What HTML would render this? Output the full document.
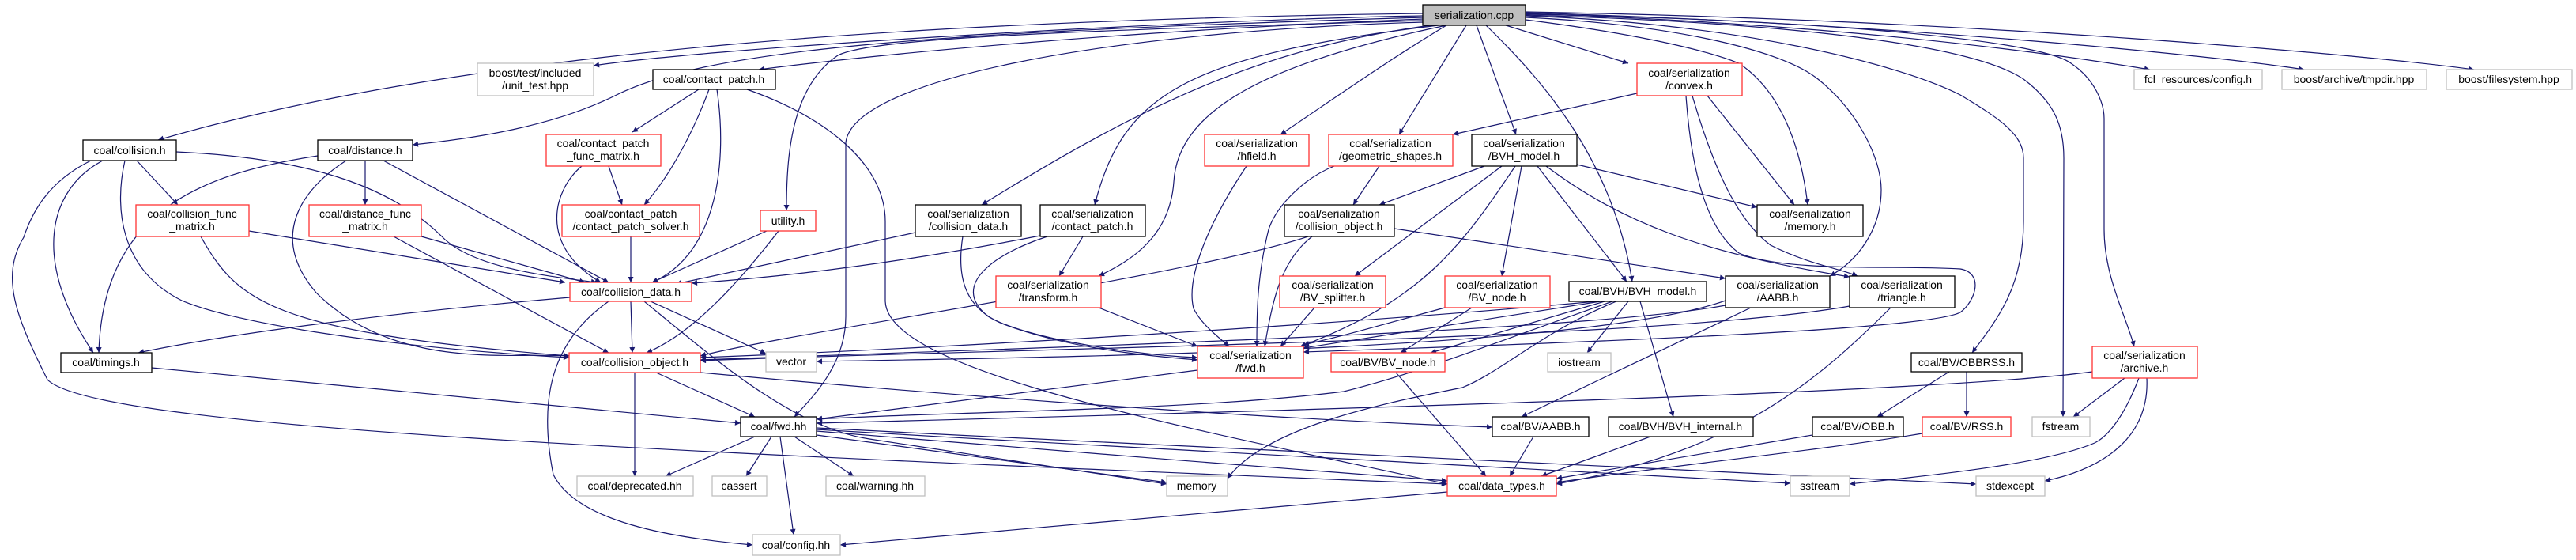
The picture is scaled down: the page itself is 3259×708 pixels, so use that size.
<!DOCTYPE html>
<html><head><meta charset="utf-8"><style>
html,body{margin:0;padding:0;background:#fff;}
svg{display:block;}
text{font-family:"Liberation Sans",sans-serif;font-size:14px;text-anchor:middle;fill:#000;}
.e{fill:none;stroke:#191970;stroke-width:1.2;marker-end:url(#a);}
.b{fill:#fff;stroke:#000;stroke-width:1.3;}
.r{fill:#fff;stroke:#ff3333;stroke-width:1.3;}
.g{fill:#fff;stroke:#bfbfbf;stroke-width:1.3;}
</style></head><body>
<svg width="3259" height="708" viewBox="0 0 3259 708" xmlns="http://www.w3.org/2000/svg">
<defs><marker id="a" viewBox="0 0 10 10" refX="10" refY="5" markerWidth="10" markerHeight="7" markerUnits="userSpaceOnUse" orient="auto"><path d="M0,0 L10,5 L0,10 z" fill="#191970"/></marker></defs>
<g>
<path class="e" d="M1800,20 C1500,25 900,60 751,83"/>
<path class="e" d="M1800,17 C1200,25 600,60 200,177"/>
<path class="e" d="M1800,22 C1200,40 900,60 780,120 C700,160 600,175 522,183"/>
<path class="e" d="M1800,24 C1400,40 1100,70 960,88"/>
<path class="e" d="M1800,26 C1300,40 1100,50 1060,70 C1000,110 995,200 995,266"/>
<path class="e" d="M1800,28 C1400,40 1080,100 1070,180 L1070,400 C1070,460 1030,500 1005,527"/>
<path class="e" d="M1810,32 C1600,60 1450,130 1242,259"/>
<path class="e" d="M1820,32 C1500,70 1420,120 1385,259"/>
<path class="e" d="M1830,32 C1600,80 1490,140 1485,230 C1480,300 1430,330 1390,349"/>
<path class="e" d="M1830,32 C1750,80 1680,130 1620,170"/>
<path class="e" d="M1855,32 L1770,170"/>
<path class="e" d="M1868,32 L1918,170"/>
<path class="e" d="M1880,32 C1950,100 2040,200 2065,356"/>
<path class="e" d="M1905,32 L2060,80"/>
<path class="e" d="M1930,25 C2050,40 2150,60 2200,80 C2260,120 2280,200 2287,259"/>
<path class="e" d="M1930,22 C2100,30 2250,60 2300,100 C2350,140 2380,200 2380,240 C2380,290 2350,330 2315,349"/>
<path class="e" d="M1930,20 C2200,30 2400,80 2480,120 C2530,150 2560,170 2560,200 L2560,280 C2560,360 2530,400 2495,446"/>
<path class="e" d="M1930,19 C2300,30 2500,60 2560,100 C2600,130 2611,160 2611,200 L2610,527"/>
<path class="e" d="M1930,18 C2300,25 2580,50 2620,80 C2650,100 2662,130 2662,150 L2662,290 C2662,350 2690,400 2700,438"/>
<path class="e" d="M1930,17 C2300,30 2550,60 2720,88"/>
<path class="e" d="M1930,16 C2400,30 2800,70 2915,88"/>
<path class="e" d="M1930,15 C2500,25 3000,70 3130,88"/>

<path class="e" d="M130,203 C60,240 40,330 118,446"/>
<path class="e" d="M402,197 C250,220 130,270 125,446"/>
<path class="e" d="M721,376 C500,395 300,420 175,446"/>
<path class="e" d="M173,203 L225,259"/>
<path class="e" d="M158,203 C145,260 150,340 230,380 C300,410 500,440 720,452"/>
<path class="e" d="M223,192 C400,200 500,240 560,300 C600,340 700,350 755,357"/>
<path class="e" d="M115,203 C60,230 40,270 30,300 C0,350 20,400 60,480 C120,540 800,570 1831,612"/>
<path class="e" d="M462,203 L462,259"/>
<path class="e" d="M485,203 L770,357"/>
<path class="e" d="M438,203 C380,240 340,300 400,370 C500,470 650,445 720,450"/>
<path class="e" d="M315,292 L715,357"/>
<path class="e" d="M254,299 C300,380 340,420 720,450"/>
<path class="e" d="M533,299 L740,357"/>
<path class="e" d="M498,299 L770,446"/>
<path class="e" d="M884,113 L800,167"/>
<path class="e" d="M897,113 C880,160 850,220 815,259"/>
<path class="e" d="M907,113 C920,200 910,320 825,357"/>
<path class="e" d="M945,113 C1050,150 1120,210 1120,280 L1120,380 C1120,470 1500,540 1831,612"/>
<path class="e" d="M770,210 L787,259"/>
<path class="e" d="M736,210 C700,240 680,310 760,357"/>
<path class="e" d="M798,299 L798,357"/>
<path class="e" d="M798,381 L800,446"/>
<path class="e" d="M823,381 L969,447"/>
<path class="e" d="M770,381 C700,430 680,500 700,600 C730,660 850,680 952,689"/>
<path class="e" d="M815,381 C900,450 1000,540 1100,555 L1476,612"/>
<path class="e" d="M803,471 L803,602"/>
<path class="e" d="M830,471 L955,527"/>
<path class="e" d="M886,471 C1200,500 1600,530 1888,540"/>
<path class="e" d="M192,465 L937,535"/>
<path class="e" d="M970,292 L825,357"/>
<path class="e" d="M985,292 C940,350 880,420 818,446"/>
<path class="e" d="M1158,294 L855,359"/>
<path class="e" d="M1218,299 C1210,350 1220,390 1270,410 C1350,440 1450,450 1515,455"/>
<path class="e" d="M1316,298 C1150,330 1000,350 875,358"/>
<path class="e" d="M1370,299 L1340,349"/>
<path class="e" d="M1325,299 C1260,320 1200,360 1250,400 C1300,430 1450,450 1515,452"/>
<path class="e" d="M1390,389 L1515,438"/>
<path class="e" d="M1577,210 C1530,280 1500,350 1510,390 C1520,410 1540,425 1555,438"/>
<path class="e" d="M1515,468 L1033,530"/>
<path class="e" d="M955,552 L842,602"/>
<path class="e" d="M976,552 L944,602"/>
<path class="e" d="M1005,552 L1080,602"/>
<path class="e" d="M987,552 L1004,676"/>
<path class="e" d="M1033,550 L1476,610"/>
<path class="e" d="M1033,545 C1200,560 1600,590 1831,608"/>
<path class="e" d="M1033,543 C1500,570 2000,600 2265,611"/>
<path class="e" d="M1033,541 C1600,570 2200,600 2500,612"/>
<path class="e" d="M1745,210 L1712,259"/>
<path class="e" d="M1688,210 C1650,225 1615,260 1605,290 C1590,350 1590,400 1590,438"/>
<path class="e" d="M2071,118 L1838,170"/>
<path class="e" d="M2160,121 L2270,259"/>
<path class="e" d="M2141,121 C2170,220 2200,280 2240,310 C2290,335 2330,340 2350,349"/>
<path class="e" d="M2133,121 C2140,220 2160,290 2200,320 C2260,345 2400,335 2480,340 C2510,345 2500,380 2480,395 C2440,415 2100,430 1649,445"/>
<path class="e" d="M1878,210 L1745,259"/>
<path class="e" d="M1900,210 L1714,349"/>
<path class="e" d="M1925,210 L1900,349"/>
<path class="e" d="M1945,210 L2058,356"/>
<path class="e" d="M1995,208 L2223,262"/>
<path class="e" d="M1956,210 C2050,280 2150,320 2340,350"/>
<path class="e" d="M1917,210 C1850,310 1800,380 1645,438"/>
<path class="e" d="M1655,299 C1500,350 1000,420 886,450"/>
<path class="e" d="M1660,299 C1620,330 1610,380 1600,438"/>
<path class="e" d="M1764,289 L2183,352"/>
<path class="e" d="M1663,389 L1620,438"/>
<path class="e" d="M1828,389 C1750,410 1700,425 1649,436"/>
<path class="e" d="M1862,389 L1772,446"/>
<path class="e" d="M2020,381 C1700,410 1200,440 886,452"/>
<path class="e" d="M2025,381 L1649,440"/>
<path class="e" d="M2030,381 L1810,446"/>
<path class="e" d="M2060,381 L2008,446"/>
<path class="e" d="M2045,381 C1950,420 1900,470 1850,490 C1750,510 1600,540 1553,605"/>
<path class="e" d="M2075,381 L2117,527"/>
<path class="e" d="M2040,381 C1900,430 1800,470 1700,495 C1500,520 1200,520 1033,530"/>
<path class="e" d="M2215,389 L1925,527"/>
<path class="e" d="M2183,386 C2000,420 1300,440 886,455"/>
<path class="e" d="M2183,380 C2000,445 1300,452 1033,457"/>
<path class="e" d="M2392,389 C2300,480 2200,570 1969,612"/>
<path class="e" d="M2340,387 C2100,430 1300,440 886,456"/>
<path class="e" d="M1766,471 L1880,602"/>
<path class="e" d="M1940,552 L1910,602"/>
<path class="e" d="M2088,552 L1950,602"/>
<path class="e" d="M2466,470 L2375,527"/>
<path class="e" d="M2488,470 L2488,527"/>
<path class="e" d="M2293,550 L1969,605"/>
<path class="e" d="M2432,548 C2300,570 2100,590 1969,610"/>
<path class="e" d="M2647,470 C2500,490 2000,510 1033,535"/>
<path class="e" d="M2688,478 L2623,527"/>
<path class="e" d="M2706,478 C2690,520 2670,550 2650,560 C2580,590 2400,605 2340,612"/>
<path class="e" d="M2716,478 C2720,560 2650,595 2587,608"/>
<path class="e" d="M1831,622 L1063,689"/>
</g>
<g>
<rect x="1800" y="6" width="130" height="26" fill="#bfbfbf" stroke="#000" stroke-width="1.3"/><text x="1865" y="24">serialization.cpp</text>
<rect class="g" x="604" y="80" width="147" height="41"/><text x="677" y="97">boost/test/included</text><text x="677" y="113">/unit_test.hpp</text>
<rect class="b" x="105" y="177" width="118" height="26"/><text x="164" y="195">coal/collision.h</text>
<rect class="b" x="402" y="177" width="120" height="26"/><text x="462" y="195">coal/distance.h</text>
<rect class="r" x="691" y="170" width="145" height="40"/><text x="763" y="186">coal/contact_patch</text><text x="763" y="202">_func_matrix.h</text>
<rect class="r" x="172" y="259" width="143" height="40"/><text x="243" y="275">coal/collision_func</text><text x="243" y="291">_matrix.h</text>
<rect class="r" x="391" y="259" width="142" height="40"/><text x="462" y="275">coal/distance_func</text><text x="462" y="291">_matrix.h</text>
<rect class="r" x="711" y="259" width="174" height="40"/><text x="798" y="275">coal/contact_patch</text><text x="798" y="291">/contact_patch_solver.h</text>
<rect class="r" x="721" y="357" width="154" height="24"/><text x="798" y="374">coal/collision_data.h</text>
<rect class="r" x="720" y="446" width="166" height="25"/><text x="803" y="463">coal/collision_object.h</text>
<rect class="b" x="77" y="446" width="115" height="25"/><text x="134" y="463">coal/timings.h</text>
<rect class="g" x="730" y="602" width="147" height="25"/><text x="803" y="619">coal/deprecated.hh</text>
<rect class="b" x="826" y="88" width="155" height="25"/><text x="903" y="105">coal/contact_patch.h</text>
<rect class="r" x="962" y="266" width="70" height="26"/><text x="997" y="284">utility.h</text>
<rect class="b" x="1158" y="259" width="134" height="40"/><text x="1225" y="275">coal/serialization</text><text x="1225" y="291">/collision_data.h</text>
<rect class="b" x="1316" y="259" width="133" height="40"/><text x="1382" y="275">coal/serialization</text><text x="1382" y="291">/contact_patch.h</text>
<rect class="r" x="1260" y="349" width="133" height="40"/><text x="1326" y="365">coal/serialization</text><text x="1326" y="381">/transform.h</text>
<rect class="r" x="1524" y="170" width="132" height="40"/><text x="1590" y="186">coal/serialization</text><text x="1590" y="202">/hfield.h</text>
<rect class="g" x="969" y="445" width="64" height="25"/><text x="1001" y="462">vector</text>
<rect class="r" x="1515" y="438" width="134" height="40"/><text x="1582" y="454">coal/serialization</text><text x="1582" y="470">/fwd.h</text>
<rect class="b" x="937" y="527" width="96" height="25"/><text x="985" y="544">coal/fwd.hh</text>
<rect class="g" x="901" y="602" width="69" height="25"/><text x="935" y="619">cassert</text>
<rect class="g" x="1045" y="602" width="125" height="25"/><text x="1107" y="619">coal/warning.hh</text>
<rect class="g" x="1476" y="602" width="77" height="25"/><text x="1514" y="619">memory</text>
<rect class="g" x="952" y="676" width="111" height="26"/><text x="1007" y="694">coal/config.hh</text>
<rect class="r" x="2071" y="80" width="133" height="41"/><text x="2137" y="97">coal/serialization</text><text x="2137" y="113">/convex.h</text>
<rect class="r" x="1681" y="170" width="157" height="40"/><text x="1759" y="186">coal/serialization</text><text x="1759" y="202">/geometric_shapes.h</text>
<rect class="b" x="1862" y="170" width="133" height="40"/><text x="1928" y="186">coal/serialization</text><text x="1928" y="202">/BVH_model.h</text>
<rect class="b" x="1625" y="259" width="139" height="40"/><text x="1694" y="275">coal/serialization</text><text x="1694" y="291">/collision_object.h</text>
<rect class="b" x="2223" y="259" width="134" height="40"/><text x="2290" y="275">coal/serialization</text><text x="2290" y="291">/memory.h</text>
<rect class="r" x="1619" y="349" width="134" height="40"/><text x="1686" y="365">coal/serialization</text><text x="1686" y="381">/BV_splitter.h</text>
<rect class="r" x="1828" y="349" width="133" height="40"/><text x="1894" y="365">coal/serialization</text><text x="1894" y="381">/BV_node.h</text>
<rect class="b" x="1985" y="356" width="174" height="25"/><text x="2072" y="373">coal/BVH/BVH_model.h</text>
<rect class="b" x="2183" y="349" width="132" height="40"/><text x="2249" y="365">coal/serialization</text><text x="2249" y="381">/AABB.h</text>
<rect class="b" x="2340" y="349" width="133" height="40"/><text x="2406" y="365">coal/serialization</text><text x="2406" y="381">/triangle.h</text>
<rect class="r" x="1684" y="446" width="144" height="24"/><text x="1756" y="463">coal/BV/BV_node.h</text>
<rect class="g" x="1958" y="446" width="80" height="24"/><text x="1998" y="463">iostream</text>
<rect class="b" x="1888" y="527" width="122" height="25"/><text x="1949" y="544">coal/BV/AABB.h</text>
<rect class="b" x="2035" y="527" width="183" height="25"/><text x="2126" y="544">coal/BVH/BVH_internal.h</text>
<rect class="b" x="2293" y="527" width="115" height="25"/><text x="2350" y="544">coal/BV/OBB.h</text>
<rect class="r" x="1831" y="602" width="138" height="25"/><text x="1900" y="619">coal/data_types.h</text>
<rect class="g" x="2265" y="602" width="75" height="25"/><text x="2302" y="619">sstream</text>
<rect class="g" x="2700" y="88" width="162" height="25"/><text x="2781" y="105">fcl_resources/config.h</text>
<rect class="g" x="2887" y="88" width="183" height="25"/><text x="2978" y="105">boost/archive/tmpdir.hpp</text>
<rect class="g" x="3095" y="88" width="159" height="25"/><text x="3174" y="105">boost/filesystem.hpp</text>
<rect class="b" x="2418" y="446" width="140" height="24"/><text x="2488" y="463">coal/BV/OBBRSS.h</text>
<rect class="r" x="2647" y="438" width="133" height="40"/><text x="2713" y="454">coal/serialization</text><text x="2713" y="470">/archive.h</text>
<rect class="r" x="2432" y="527" width="112" height="25"/><text x="2488" y="544">coal/BV/RSS.h</text>
<rect class="g" x="2571" y="527" width="73" height="25"/><text x="2607" y="544">fstream</text>
<rect class="g" x="2500" y="602" width="87" height="25"/><text x="2543" y="619">stdexcept</text>
</g>
</svg>
</body></html>
